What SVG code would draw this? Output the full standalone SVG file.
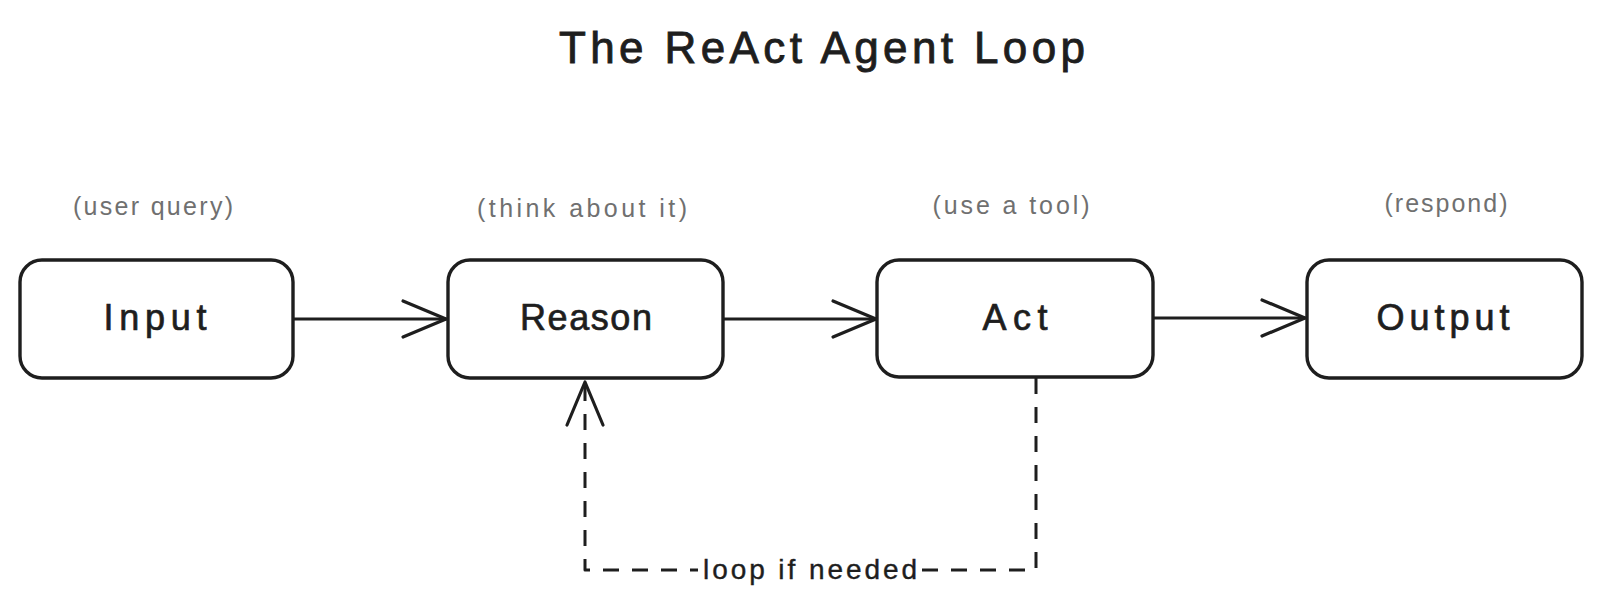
<svg xmlns="http://www.w3.org/2000/svg" width="1600" height="611" viewBox="0 0 1600 611">
  <style>
    .box { fill: #ffffff; stroke: #1e1e1e; stroke-width: 3.4; }
    .main { font-family: "Liberation Sans", Arial, sans-serif; font-size: 36px; fill: #1e1e1e; stroke: #1e1e1e; stroke-width: 0.7; text-anchor: middle; }
    .sub { font-family: "Liberation Sans", Arial, sans-serif; font-size: 25px; fill: #707070; text-anchor: middle; }
    .title { font-family: "Liberation Sans", Arial, sans-serif; font-size: 44px; fill: #1e1e1e; stroke: #1e1e1e; stroke-width: 0.9; text-anchor: middle; }
    .edge { fill: none; stroke: #1e1e1e; stroke-width: 3; stroke-linecap: round; stroke-linejoin: round; }
    .dash { stroke-dasharray: 16 13; stroke-linecap: butt; }
    .lbl { font-family: "Liberation Sans", Arial, sans-serif; font-size: 28px; fill: #1e1e1e; stroke: #1e1e1e; stroke-width: 0.4; text-anchor: middle; }
  </style>
  <defs>
    <marker id="chev" viewBox="-48 -22 52 44" markerWidth="52" markerHeight="44" refX="0" refY="0" markerUnits="userSpaceOnUse" orient="auto">
      <path d="M-43,-18 L0,0 L-43,18" fill="none" stroke="#1e1e1e" stroke-width="3.2" stroke-linecap="round" stroke-linejoin="round" stroke-dasharray="none"/>
    </marker>
  </defs>
  <rect width="1600" height="611" fill="#ffffff"/>

  <g id="title">
    <text class="title" x="822" y="63" textLength="526" lengthAdjust="spacing">The ReAct Agent Loop</text>
  </g>

  <g id="connectors">
    <path class="edge" d="M293,319 L446,319" marker-end="url(#chev)"/>
    <path class="edge" d="M723,319 L876,319" marker-end="url(#chev)"/>
    <path class="edge" d="M1153,318 L1305,318" marker-end="url(#chev)"/>
    <path class="edge dash" d="M1036,378 V570 H585 V382" marker-end="url(#chev)"/>
    <g id="loop-label">
      <rect x="698" y="550" width="224" height="36" fill="#ffffff"/>
      <text class="lbl" x="810" y="579" textLength="214" lengthAdjust="spacing">loop if needed</text>
    </g>
  </g>

  <g id="input">
    <rect class="box" x="20" y="260" width="273" height="118" rx="22"/>
    <text class="main" x="155" y="330" textLength="103" lengthAdjust="spacing">Input</text>
    <text class="sub" x="153" y="215" textLength="160" lengthAdjust="spacing">(user query)</text>
  </g>

  <g id="reason">
    <rect class="box" x="448" y="260" width="275" height="118" rx="22"/>
    <text class="main" x="586" y="330" textLength="132" lengthAdjust="spacing">Reason</text>
    <text class="sub" x="582" y="217" textLength="210" lengthAdjust="spacing">(think about it)</text>
  </g>

  <g id="act">
    <rect class="box" x="877" y="260" width="276" height="117" rx="22"/>
    <text class="main" x="1015" y="330" textLength="65" lengthAdjust="spacing">Act</text>
    <text class="sub" x="1011" y="214" textLength="157" lengthAdjust="spacing">(use a tool)</text>
  </g>

  <g id="output">
    <rect class="box" x="1307" y="260" width="275" height="118" rx="22"/>
    <text class="main" x="1443" y="330" textLength="133" lengthAdjust="spacing">Output</text>
    <text class="sub" x="1446" y="212" textLength="123" lengthAdjust="spacing">(respond)</text>
  </g>
</svg>
